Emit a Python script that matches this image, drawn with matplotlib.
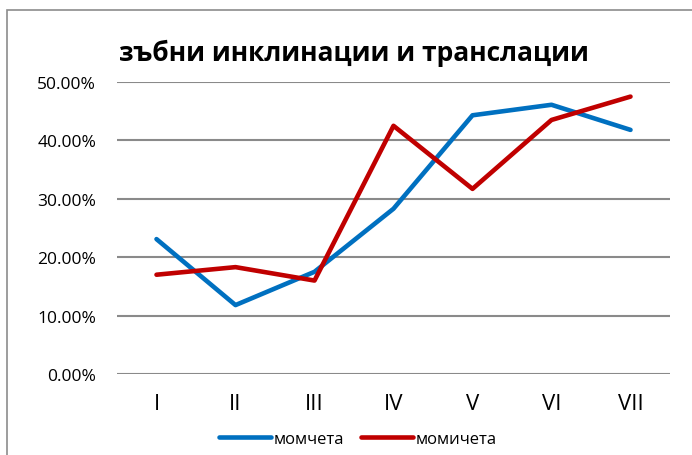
import matplotlib.pyplot as plt
from matplotlib.patches import Rectangle
from matplotlib.ticker import FuncFormatter

plt.rcParams['font.family'] = ['Open Sans', 'DejaVu Sans']

categories = ['I', 'II', 'III', 'IV', 'V', 'VI', 'VII']
boys = [0.231, 0.118, 0.175, 0.283, 0.443, 0.461, 0.418]
girls = [0.170, 0.183, 0.160, 0.425, 0.317, 0.435, 0.475]

fig = plt.figure(figsize=(6.92, 4.56), dpi=100)
ax = fig.add_axes([117 / 692, 1 - 375 / 456, (670 - 117) / 692, (375 - 83) / 456])

# outer chart frame
fig.patches.append(Rectangle((7 / 692, -0.1), 1.2, 1 - 11 / 456 + 0.1,
                             transform=fig.transFigure, fill=False,
                             edgecolor='#8c8c8c', linewidth=1.2))

x = range(len(categories))
ax.plot(x, boys, color='#0070C0', linewidth=3.3, solid_capstyle='round', label='момчета')
ax.plot(x, girls, color='#C00000', linewidth=3.3, solid_capstyle='round', label='момичета')

ax.set_xlim(-0.5, len(categories) - 0.5)
ax.set_ylim(0, 0.5)
ax.set_yticks([0, 0.1, 0.2, 0.3, 0.4, 0.5])
ax.yaxis.set_major_formatter(FuncFormatter(lambda v, p: f'{v * 100:.2f}%'))
ax.set_xticks(list(x))
ax.set_xticklabels(categories, fontsize=16)
ax.tick_params(axis='y', length=0, labelsize=12.5, pad=15)
ax.tick_params(axis='x', length=0, pad=14)
ax.grid(axis='y', color='#8a8a8a', linewidth=1.5)
ax.set_axisbelow(True)
for s in ax.spines.values():
    s.set_visible(False)

fig.text(354 / 692, 1 - 53 / 456, 'зъбни инклинации и транслации',
         fontsize=19, fontweight='bold', ha='center', va='center')

ax.legend(loc='center', bbox_to_anchor=(358 / 692, 1 - 440 / 456),
          bbox_transform=fig.transFigure, ncol=2, frameon=False,
          fontsize=12, handlelength=3.1, handletextpad=0.2, columnspacing=1.0)

fig.savefig('out.png', dpi=100)
